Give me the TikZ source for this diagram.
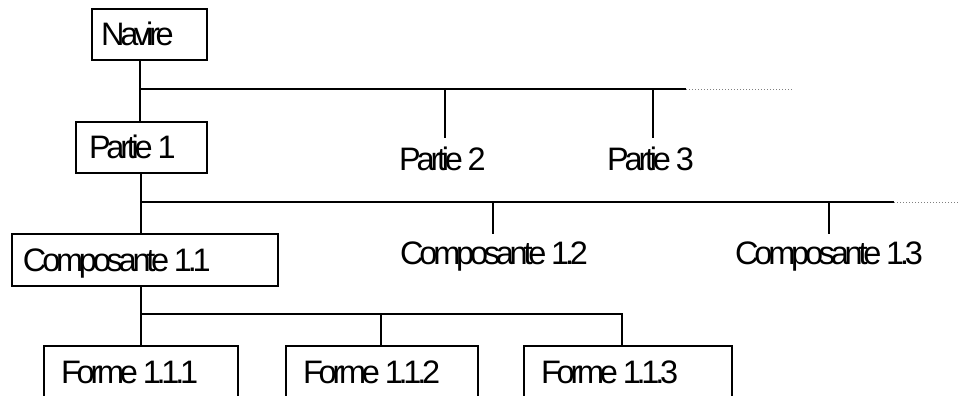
\documentclass[tikz,border=0pt]{standalone}
\usepackage{fontspec}
\newfontfamily\lblfont[LetterSpace=-13]{Liberation Sans}
\tikzset{
  every node/.style={font=\lblfont\fontsize{32.5}{32.5}\selectfont},
  box/.style={draw, line width=2pt, rectangle, anchor=north west,
    minimum height=51pt, text height=22pt, text depth=0pt},
  caption/.style={anchor=base west, inner sep=0pt},
  link/.style={line width=2.2pt},
  more/.style={line width=1pt, gray, dotted},
}
\begin{document}
\begin{tikzpicture}[x=1pt, y=-1pt]
\useasboundingbox (0,0) rectangle (958,396);

% level 0 and 1
\node[box, inner xsep=9pt] (navire) at (91,8) {\makebox[97pt][l]{Navire}};
\node[box, inner xsep=13pt] (partie1) at (75,121) {\makebox[105pt][l]{Partie 1}};
\node[caption] (partie2) at (399,170) {Partie 2};
\node[caption] (partie3) at (607,170) {Partie 3};

% level 2
\node[box, inner xsep=11pt, minimum height=52pt] (comp11) at (11,233) {\makebox[244pt][l]{Composante 1.1}};
\node[caption] (comp12) at (400,264) {Composante 1.2};
\node[caption] (comp13) at (735,264) {Composante 1.3};

% level 3
\node[box, inner xsep=17pt, minimum height=52pt] (forme111) at (43,345) {\makebox[160pt][l]{Forme 1.1.1}};
\node[box, inner xsep=17pt, minimum height=52pt] (forme112) at (285,345) {\makebox[158pt][l]{Forme 1.1.2}};
\node[box, inner xsep=17pt, minimum height=52pt] (forme113) at (523,345) {\makebox[174pt][l]{Forme 1.1.3}};

% bus under Navire
\coordinate (b1) at (140,89);
\coordinate (b1end) at (686,89);
\coordinate (b1more) at (793,89);
\coordinate (t2) at (445,138);
\coordinate (t3) at (653,138);
\draw[link] (navire.south -| b1) -- (partie1.north -| b1);
\draw[link] (b1) -- (b1end);
\draw[more] (b1end) -- (b1more);
\draw[link] (t2 |- b1) -- (t2);
\draw[link] (t3 |- b1) -- (t3);

% bus under Partie 1
\coordinate (b2) at (141,202);
\coordinate (b2end) at (894,202);
\coordinate (b2more) at (958,202);
\coordinate (t12) at (493,234);
\coordinate (t13) at (829,234);
\draw[link] (partie1.south -| b2) -- (comp11.north -| b2);
\draw[link] (b2) -- (b2end);
\draw[more] (b2end) -- (b2more);
\draw[link] (t12 |- b2) -- (t12);
\draw[link] (t13 |- b2) -- (t13);

% bus under Composante 1.1
\coordinate (b3) at (141,314);
\coordinate (k2) at (381,314);
\coordinate (b3end) at (622,314);
\draw[link] (comp11.south -| b3) -- (forme111.north -| b3);
\draw[link] (b3) -- (b3end) -- (forme113.north -| b3end);
\draw[link] (k2) -- (forme112.north -| k2);
\end{tikzpicture}
\end{document}
